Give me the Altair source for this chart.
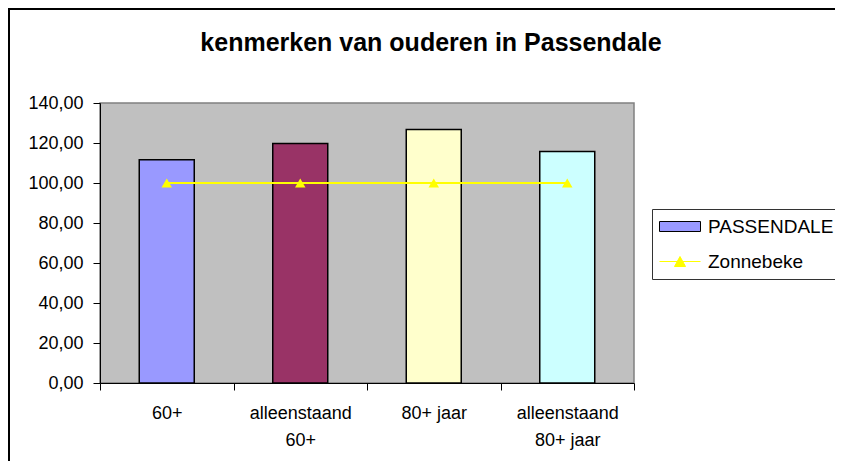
import altair as alt
import pandas as pd

# ---- data ----
title_text = "kenmerken van ouderen in Passendale"
categories = ["60+", "alleenstaand 60+", "80+ jaar", "alleenstaand 80+ jaar"]
passendale = [111.6, 119.8, 126.8, 115.7]
zonnebeke = [100.0, 100.0, 100.0, 100.0]
series_names = ["PASSENDALE", "Zonnebeke"]
bar_colors = ["#9999FF", "#993366", "#FFFFCC", "#CCFFFF"]
y_ticks = [0, 20, 40, 60, 80, 100, 120, 140]

FONT = "Liberation Sans"

bars_df = pd.DataFrame({"cat": categories, "value": passendale})
line_df = pd.DataFrame({"cat": categories, "value": zonnebeke})
legend_df = pd.DataFrame({"series": series_names, "value": [None, None]})
frame_df = pd.DataFrame({"k": [0]})
title_df = pd.DataFrame({"t": [title_text]})

x_axis = alt.Axis(
    title=None,
    labelAngle=0,
    tickBand="extent",
    tickSize=7,
    tickColor="black",
    domainColor="black",
    labelPadding=14,
    labelFontSize=18,
    labelLineHeight=27,
    labelColor="black",
    labelFont=FONT,
    labelExpr="indexof(datum.label, 'alleenstaand ') == 0 ? ['alleenstaand', substring(datum.label, 13)] : datum.label",
)
x_scale = alt.Scale(domain=categories, paddingInner=0, paddingOuter=0)

y_scale = alt.Scale(domain=[0, 140], nice=False)
y_axis = alt.Axis(
    title=None,
    values=y_ticks,
    tickCount=20,
    grid=False,
    tickSize=7,
    tickColor="black",
    domainColor="black",
    labelPadding=10,
    labelFontSize=18,
    labelColor="black",
    labelFont=FONT,
    labelOverlap=False,
    labelFlush=False,
    labelExpr="replace(format(datum.value, '.2f'), '.', ',')",
)


def X():
    return alt.X("cat:N", sort=categories, scale=x_scale, axis=x_axis)


def Y():
    return alt.Y("value:Q", scale=y_scale, axis=y_axis)


bars = alt.Chart(bars_df).mark_bar(size=55, stroke="black", strokeWidth=1.5).encode(
    x=X(),
    y=Y(),
    color=alt.Color("cat:N", scale=alt.Scale(domain=categories, range=bar_colors), legend=None),
)

line = alt.Chart(line_df).mark_line(color="#FFFF00", strokeWidth=2).encode(x=X(), y=Y())

markers = alt.Chart(line_df).mark_point(
    shape="triangle-up", filled=True, color="#FFFF00", size=110, opacity=1
).encode(x=X(), y=Y())

# legend symbols (custom paths, unit = 10px)
rect_path = "M-1,-0.5H3.1V0.5H-1Z"
line_tri_path = "M-1,0H3.1M0.5,0.5L1.05,-0.5L1.6,0.5Z"

legend_props = dict(
    orient="none",
    legendX=552,
    legendY=106,
    title=None,
    padding=7,
    rowPadding=14,
    symbolSize=400,
    symbolStrokeWidth=1,
    symbolOpacity=1,
    labelOffset=28,
    labelFontSize=19,
    labelFont=FONT,
    labelColor="black",
    labelLimit=400,
    strokeColor="#333333",
    fillColor="white",
)

legend_layer = alt.Chart(legend_df).mark_point(filled=True, size=400, opacity=1).encode(
    y=Y(),
    shape=alt.Shape("series:N", scale=alt.Scale(domain=series_names, range=[rect_path, line_tri_path]),
                    legend=alt.Legend(**legend_props)),
    fill=alt.Fill("series:N", scale=alt.Scale(domain=series_names, range=["#9999FF", "#FFFF00"]),
                  legend=alt.Legend(**legend_props)),
    stroke=alt.Stroke("series:N", scale=alt.Scale(domain=series_names, range=["#000000", "#FFFF00"]),
                      legend=alt.Legend(**legend_props)),
)

title_mark = alt.Chart(title_df).mark_text(
    fontSize=25, fontWeight="bold", font=FONT, color="black", align="center", baseline="alphabetic"
).encode(
    text="t:N",
    x=alt.value(331),
    y=alt.value(-52),
)

frame_left = alt.Chart(frame_df).mark_rule(color="black", strokeWidth=2).encode(
    x=alt.value(-91), y=alt.value(-94), y2=alt.value(358)
)
frame_top = alt.Chart(frame_df).mark_rule(color="black", strokeWidth=2).encode(
    x=alt.value(-92), x2=alt.value(735), y=alt.value(-94)
)

chart = alt.layer(bars, line, markers, legend_layer, title_mark, frame_left, frame_top).properties(
    width=534,
    height=280,
    padding={"left": 92, "top": 95, "right": 201, "bottom": 78},
    autosize=alt.AutoSizeParams(type="none"),
    background="white",
).configure(
    font=FONT
).configure_view(
    fill="#C0C0C0", stroke="#808080", strokeWidth=1.5
)

chart.save("out.html", embed_options={"renderer": "svg", "actions": False})
